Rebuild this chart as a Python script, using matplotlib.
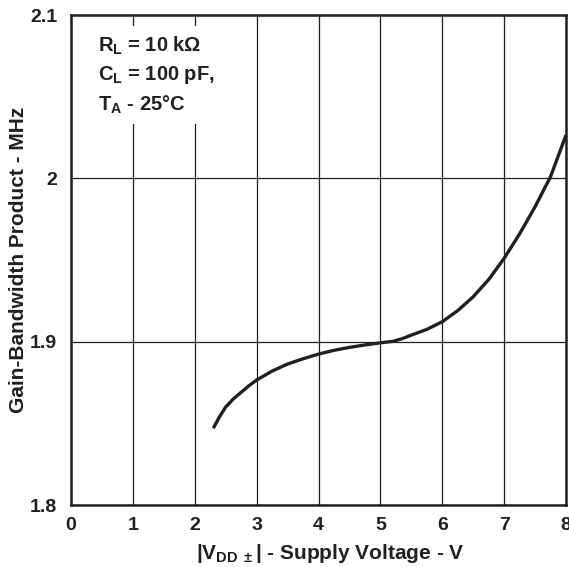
import matplotlib
matplotlib.use("Agg")
import matplotlib.pyplot as plt

plt.rcParams['font.family'] = ['Liberation Sans', 'DejaVu Sans']
plt.rcParams['font.weight'] = 'bold'
plt.rcParams['mathtext.fontset'] = 'custom'
plt.rcParams['mathtext.rm'] = 'Liberation Sans:bold'
plt.rcParams['mathtext.it'] = 'Liberation Sans:bold'
plt.rcParams['mathtext.bf'] = 'Liberation Sans:bold'
plt.rcParams['mathtext.default'] = 'regular'

# Data
supply_voltage = [2.3, 2.4, 2.5, 2.625, 2.75, 2.875, 3.0, 3.25, 3.5, 3.75, 4.0, 4.25, 4.5, 4.75,
                  5.0, 5.2, 5.35, 5.5, 5.75, 6.0, 6.25, 6.5, 6.75, 7.0, 7.25, 7.5, 7.75, 8.0]
gbw_mhz = [1.847, 1.854, 1.860, 1.865, 1.869, 1.873, 1.8765, 1.882, 1.8863, 1.8895, 1.8924, 1.8947,
           1.8965, 1.898, 1.8993, 1.9002, 1.9018, 1.904, 1.9075, 1.9122, 1.919, 1.9275, 1.938, 1.951,
           1.966, 1.9826, 2.001, 2.0265]

x_ticks = [0, 1, 2, 3, 4, 5, 6, 7, 8]
y_ticks = [1.8, 1.9, 2.0, 2.1]
y_tick_labels = ['1.8', '1.9', '2', '2.1']

ink = '#231f20'
fig = plt.figure(figsize=(5.69, 5.67), dpi=100)
ax = fig.add_axes([71 / 569, 62 / 567, 495 / 569, 490 / 567])

ax.plot(supply_voltage, gbw_mhz, color=ink, linewidth=2.4, solid_capstyle='butt',
        solid_joinstyle='round', zorder=3)

ax.set_xlim(0, 8)
ax.set_ylim(1.8, 2.1)
ax.set_xticks(x_ticks)
ax.set_yticks(y_ticks)
ax.set_yticklabels(y_tick_labels)
ax.tick_params(length=0, labelsize=14, colors=ink)
ax.tick_params(axis='y', pad=10)
ax.tick_params(axis='x', pad=9)
for lbl in ax.get_xticklabels() + ax.get_yticklabels():
    lbl.set_fontweight('bold')

ax.grid(True, color=ink, linewidth=0.9, zorder=1)
for s in ax.spines.values():
    s.set_linewidth(1.8)
    s.set_color(ink)

ax.set_xlabel(r'|V$_{DD\ \pm}$| - Supply Voltage - V', fontsize=15, fontweight='bold', color=ink)
ax.set_ylabel('Gain-Bandwidth Product - MHz', fontsize=15, fontweight='bold', color=ink)
ax.xaxis.set_label_coords(0.523, -0.075)
ax.yaxis.set_label_coords(-0.087, 0.5)

ax.text(0.055, 0.96, 'R$_L$ = 10 k\u03a9\nC$_L$ = 100 pF,\nT$_A$ - 25\u00b0C',
        transform=ax.transAxes, ha='left', va='top', fontsize=14.5, fontweight='bold',
        linespacing=1.45, color=ink, zorder=4,
        bbox=dict(facecolor='white', edgecolor='none', pad=6))

fig.savefig('out.png', dpi=100)
